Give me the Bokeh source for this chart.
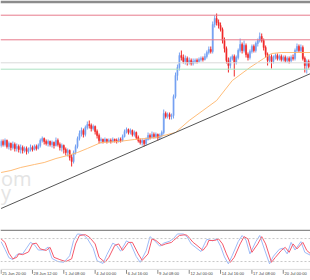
import numpy as np
from bokeh.plotting import figure
from bokeh.layouts import column
from bokeh.models import Range1d, Span, ColumnDataSource
from bokeh.embed import file_html
from bokeh.resources import INLINE
from bokeh.core.properties import value

# ---- price data (index points), one candle per bar ----
opens = [84, 88, 85, 89, 83, 86, 82, 85, 81, 83, 80, 82, 79, 81, 78, 80, 82, 80, 83, 81,
         84, 89, 91, 88, 86, 88, 85, 87, 84, 89, 85, 82, 84, 80, 77, 79, 72, 68, 77, 83,
         91, 96, 99, 95, 102, 105, 104, 101, 103, 98, 94, 89, 90, 88, 90, 88, 89, 88, 90, 89,
         88, 90, 89, 93, 98, 100, 97, 99, 95, 97, 92, 89, 87, 89, 86, 90, 94, 92, 95, 93,
         95, 92, 94, 97, 116, 113, 115, 113, 114, 133, 154, 162, 174, 172, 168, 171, 167, 169, 166, 168,
         169, 168, 170, 171, 170, 173, 177, 180, 178, 205, 211, 207, 204, 200, 189, 181, 169, 164, 171, 173,
         167, 172, 179, 185, 179, 184, 175, 172, 178, 183, 179, 186, 189, 193, 189, 182, 175, 169, 173, 168,
         172, 174, 171, 173, 170, 172, 169, 171, 169, 172, 171, 179, 183, 179, 182, 171, 164, 168]
highs = [90, 90, 91, 90, 88, 87, 88, 87, 86, 85, 85, 84, 83, 83, 82, 85, 84, 85, 85, 86,
         91, 93, 92, 90, 90, 89, 89, 88, 92, 91, 87, 86, 85, 82, 81, 80, 75, 79, 85, 93,
         99, 102, 101, 104, 108, 109, 106, 105, 104, 100, 96, 92, 91, 92, 91, 91, 91, 92, 91, 91,
         92, 92, 95, 100, 102, 101, 101, 100, 99, 98, 94, 91, 91, 90, 92, 97, 96, 98, 97, 97,
         96, 96, 99, 120, 118, 117, 117, 116, 135, 157, 165, 177, 179, 175, 174, 173, 172, 171, 171, 171,
         171, 172, 173, 173, 176, 179, 183, 183, 208, 214, 216, 210, 207, 202, 192, 183, 172, 173, 175, 175,
         174, 181, 191, 187, 189, 186, 177, 180, 185, 185, 188, 191, 197, 196, 191, 184, 177, 175, 175, 174,
         176, 176, 175, 175, 174, 174, 173, 173, 174, 175, 181, 186, 185, 185, 184, 173, 170, 170]
lows = [82, 83, 83, 81, 80, 79, 80, 78, 78, 77, 76, 76, 77, 75, 76, 78, 78, 79, 79, 80,
        82, 87, 85, 84, 83, 83, 82, 81, 83, 83, 79, 78, 76, 74, 73, 69, 63, 66, 75, 81,
        89, 93, 92, 93, 100, 101, 98, 99, 95, 91, 86, 86, 86, 87, 86, 87, 86, 87, 87, 86,
        87, 87, 88, 92, 96, 95, 95, 93, 93, 90, 87, 85, 84, 83, 84, 89, 90, 91, 91, 91,
        89, 90, 92, 95, 111, 111, 110, 110, 111, 131, 149, 159, 169, 166, 165, 164, 165, 164, 164, 166,
        166, 167, 168, 168, 169, 171, 175, 176, 176, 202, 204, 201, 198, 186, 177, 166, 157, 161, 169, 153,
        165, 170, 177, 176, 177, 172, 169, 170, 176, 177, 177, 183, 187, 187, 179, 172, 164, 167, 161, 166,
        170, 169, 169, 168, 168, 167, 167, 166, 167, 169, 169, 177, 177, 177, 169, 157, 156, 161]
closes = [88, 85, 89, 83, 86, 82, 85, 81, 83, 80, 82, 79, 81, 78, 80, 82, 80, 83, 81, 84,
          89, 91, 88, 86, 88, 85, 87, 84, 89, 85, 82, 84, 80, 77, 79, 72, 68, 77, 83, 91,
          96, 99, 95, 102, 105, 104, 101, 103, 98, 94, 89, 90, 88, 90, 88, 89, 88, 90, 89, 88,
          90, 89, 93, 98, 100, 97, 99, 95, 97, 92, 89, 87, 89, 86, 90, 94, 92, 95, 93, 95,
          92, 94, 97, 116, 113, 115, 113, 114, 133, 154, 162, 174, 172, 168, 171, 167, 169, 166, 168, 169,
          168, 170, 171, 170, 173, 177, 180, 178, 205, 211, 207, 204, 200, 189, 181, 169, 164, 171, 173, 167,
          172, 179, 185, 179, 184, 175, 172, 178, 183, 179, 186, 189, 193, 189, 182, 175, 169, 173, 168, 172,
          174, 171, 173, 170, 172, 169, 171, 169, 172, 171, 179, 183, 179, 182, 171, 164, 168, 163]

# moving average (orange) read at bar positions
ma_bar = [0, 5, 10, 17, 22, 28, 34, 39, 44, 51, 60, 68, 79, 89, 96, 103, 110, 118, 127, 134, 138, 143, 150, 158]
ma_val = [57, 59, 62, 65, 67, 71, 74, 77, 81, 87, 88, 90, 92, 97, 109, 119, 129, 149, 162, 171, 176, 177, 177, 177]

# trend line and horizontal levels
trend_bar = [0, 158]
trend_val = [21, 156]
red_levels = [214.3, 189.7]
gray_level = 166.7
green_level = 160.3

# stochastic oscillator
stoch_k_bar = [0, 2, 4, 6, 8, 9, 11, 13, 15, 17, 19, 22, 24, 26, 29, 32, 35, 37, 39, 42, 44, 47, 49, 52, 54,
               57, 59, 61, 64, 66, 69, 71, 74, 76, 78, 81, 83, 86, 88, 90, 93, 95, 97, 99, 102, 104, 105, 108,
               110, 112, 114, 116, 118, 121, 123, 125, 127, 130, 132, 134, 137, 139, 142, 144, 146, 148, 150,
               153, 155, 158]
stoch_k = [72, 52, 30, 25, 38, 40, 40, 55, 70, 64, 50, 50, 58, 28, 20, 18, 35, 75, 92, 90, 80, 55, 22, 15, 38,
           68, 62, 47, 74, 68, 33, 18, 48, 85, 76, 60, 68, 73, 80, 92, 92, 84, 66, 58, 46, 68, 78, 74,
           80, 60, 32, 14, 36, 72, 88, 76, 40, 72, 88, 58, 14, 34, 52, 55, 40, 70, 50,
           72, 44, 36]
stoch_d_bar = [0, 2, 4, 6, 8, 9, 11, 14, 16, 18, 20, 23, 25, 27, 30, 33, 36, 38, 40, 43, 45, 48, 50, 53, 55,
               58, 60, 62, 65, 67, 70, 72, 75, 77, 79, 82, 84, 87, 88, 91, 94, 95, 98, 100, 103, 105, 106, 109,
               111, 113, 115, 117, 119, 122, 124, 126, 128, 131, 133, 135, 138, 140, 143, 145, 147, 149, 151,
               154, 156, 158]
stoch_d = [79, 70, 42, 27, 31, 40, 38, 45, 66, 68, 53, 49, 57, 31, 25, 20, 27, 66, 88, 90, 84, 66, 31, 18, 31,
           62, 66, 49, 70, 70, 40, 23, 40, 79, 75, 62, 66, 70, 75, 88, 90, 88, 70, 62, 49, 62, 75, 75,
           79, 66, 40, 18, 31, 66, 85, 79, 44, 66, 85, 66, 18, 31, 49, 57, 44, 66, 53,
           70, 49, 40]
stoch_levels = [80, 20]

tick_bars = [0, 16, 32, 48, 64, 80, 96, 112, 128, 144]
tick_labels = ["25 Jun 20:00", "28 Jun 12:00", "1 Jul 08:00", "4 Jul 00:00", "6 Jul 16:00",
               "9 Jul 08:00", "12 Jul 00:00", "14 Jul 16:00", "17 Jul 08:00", "20 Jul 00:00"]

UP = "#76a2f2"
DOWN = "#f02a2a"

bars = np.arange(len(opens))
o = np.array(opens, dtype=float)
c = np.array(closes, dtype=float)
hi = np.array(highs, dtype=float)
lo = np.array(lows, dtype=float)
up = c >= o

xr = Range1d(-0.3, 157.9)

p = figure(width=310, height=231, x_range=xr, y_range=Range1d(0, 226),
           output_backend="svg", toolbar_location=None,
           min_border_left=0, min_border_right=0, min_border_top=3, min_border_bottom=2,
           border_fill_color="#8c8c8c", background_fill_color="white", outline_line_color=None)
p.xaxis.visible = False
p.yaxis.visible = False
p.grid.visible = False

# watermark (only its right end is in view)
p.text(x=[-0.05], y=[51], text=["om"], text_align="left", text_baseline="alphabetic",
       text_font=value("Open Sans"), text_font_size="20px", text_color="#e4e4e4")
p.text(x=[-0.05], y=[37], text=["y"], text_align="left", text_baseline="alphabetic",
       text_font=value("Open Sans"), text_font_size="20px", text_color="#e4e4e4")

for lv in red_levels:
    p.add_layout(Span(location=lv, dimension="width", line_color="#e77a8b", line_width=1))
p.add_layout(Span(location=gray_level, dimension="width", line_color="#dadada", line_width=1))
p.add_layout(Span(location=green_level, dimension="width", line_color="#ace3c3", line_width=1))

src_up = ColumnDataSource(dict(x=bars[up], o=o[up], c=c[up], h=hi[up], l=lo[up]))
src_dn = ColumnDataSource(dict(x=bars[~up], o=o[~up], c=c[~up], h=hi[~up], l=lo[~up]))
for src, col in ((src_up, UP), (src_dn, DOWN)):
    p.segment(x0="x", y0="l", x1="x", y1="h", source=src, line_color=col, line_width=1)
    p.vbar(x="x", width=0.6, top="c", bottom="o", source=src, fill_color=col, line_color=col, line_width=0.5)

p.line(ma_bar, ma_val, line_color="#ffb56a", line_width=0.9)
p.line(trend_bar, trend_val, line_color="#555555", line_width=1)

# stochastic panel
q = figure(width=310, height=49, x_range=xr, y_range=Range1d(-29.5, 98.4),
           output_backend="svg", toolbar_location=None,
           min_border_left=0, min_border_right=0, min_border_top=0, min_border_bottom=0,
           border_fill_color="white", background_fill_color="white", outline_line_color=None)
q.xaxis.visible = False
q.yaxis.visible = False
q.grid.visible = False

for lv in stoch_levels:
    q.add_layout(Span(location=lv, dimension="width", line_color="#c8c8c8", line_width=1, line_dash="2 2"))

q.line(stoch_k_bar, stoch_k, line_color="#9dbaf7", line_width=1)
q.line(stoch_d_bar, stoch_d, line_color="#f5586a", line_width=1)

q.add_layout(Span(location=-0.5, dimension="width", line_color="#dddddd", line_width=1))
q.segment(x0=tick_bars, y0=[-1.5] * len(tick_bars), x1=tick_bars, y1=[-12] * len(tick_bars),
          line_color="#888888", line_width=1)
q.text(x=[b + 0.6 for b in tick_bars], y=[-11.3] * len(tick_bars), text=tick_labels,
       text_align="left", text_baseline="middle", text_font=value("Liberation Sans"),
       text_font_size="4.1px", text_color="#444444")

layout = column(p, q, spacing=0)
open("out.html", "w").write(file_html(layout, INLINE))
